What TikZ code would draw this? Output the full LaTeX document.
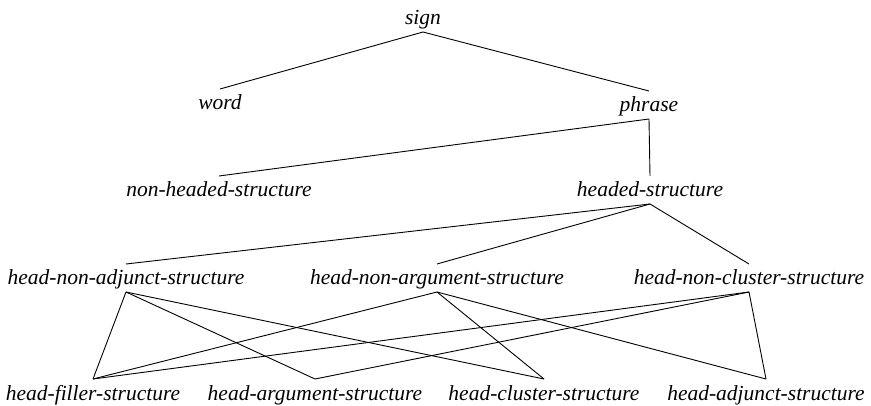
\documentclass[tikz,border=0pt]{standalone}
\usepackage{fontspec}
\setmainfont{Liberation Serif}
\begin{document}
\begin{tikzpicture}[x=1pt,y=-1pt,
  lbl/.style={anchor=base,inner sep=0pt,font=\fontsize{21.5}{26}\selectfont\itshape},
  edge/.style={line width=0.9pt,line join=round}]
\useasboundingbox (0,0) rectangle (871,406);
% level 1
\node[lbl] (sign) at (423,25) {sign};
% level 2
\node[lbl] (word) at (220,110) {word};
\node[lbl] (phrase) at (649,112) {phrase};
% level 3
\node[lbl] (nonheaded) at (219,197) {non-headed-structure};
\node[lbl] (headed) at (650,197) {headed-structure};
% level 4
\node[lbl] (hnadj) at (126,285) {head-non-adjunct-structure};
\node[lbl] (hnarg) at (437,285) {head-non-argument-structure};
\node[lbl] (hnclu) at (749,285) {head-non-cluster-structure};
% level 5
\node[lbl] (hfil) at (93,400) {head-filler-structure};
\node[lbl] (harg) at (315,400) {head-argument-structure};
\node[lbl] (hclu) at (544,400) {head-cluster-structure};
\node[lbl] (hadj) at (766,400) {head-adjunct-structure};
\newcommand{\myedge}[2]{\draw[edge] ([yshift=-7pt]#1.base) -- ([yshift=21pt]#2.base);}
\myedge{sign}{word}
\myedge{sign}{phrase}
\myedge{phrase}{nonheaded}
\myedge{phrase}{headed}
\myedge{headed}{hnadj}
\myedge{headed}{hnarg}
\myedge{headed}{hnclu}
\myedge{hnadj}{hfil}
\myedge{hnadj}{harg}
\myedge{hnadj}{hclu}
\myedge{hnarg}{hfil}
\myedge{hnarg}{hclu}
\myedge{hnarg}{hadj}
\myedge{hnclu}{hfil}
\myedge{hnclu}{harg}
\myedge{hnclu}{hadj}
\end{tikzpicture}
\end{document}
